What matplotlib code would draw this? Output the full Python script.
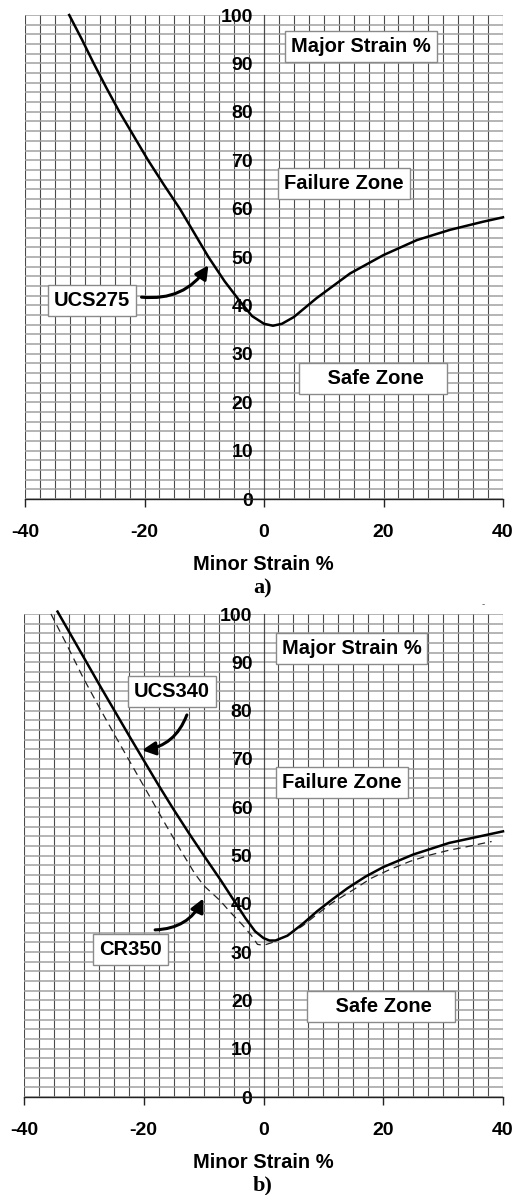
import numpy as np
import matplotlib
matplotlib.use("Agg")
import matplotlib.pyplot as plt

# ---------------- data ----------------
# Panel a) UCS275 forming limit curve (minor strain %, major strain %)
ucs275_x = [-32.6, -30.5, -28.5, -26.4, -24.2, -21.8, -19.4, -16.8, -14.1, -11.7, -9.3,
            -6.6, -4.0, -2.0, 0.0, 1.5, 3.0, 5.0, 8.8, 14.4, 20.0, 25.6, 31.1, 36.7, 40.0]
ucs275_y = [100.0, 95.0, 90.0, 85.0, 80.0, 75.0, 70.0, 65.0, 60.0, 55.0, 50.0,
            45.0, 40.8, 37.8, 36.2, 35.8, 36.2, 37.6, 41.5, 46.6, 50.4, 53.5, 55.6, 57.3, 58.2]

# Panel b) UCS340 (solid) and CR350 (dashed)
ucs340_x = [-34.4, -32.0, -29.6, -27.2, -24.8, -22.4, -20.0, -17.6, -15.1, -12.5, -9.8,
            -7.1, -5.0, -3.0, -1.4, 0.0, 1.0, 2.0, 4.0, 6.5, 9.0, 11.6, 14.0, 17.0,
            20.0, 25.0, 31.0, 40.0]
ucs340_y = [100.5, 95.3, 90.1, 84.9, 79.8, 74.7, 69.7, 64.7, 59.7, 54.7, 49.7,
            44.8, 40.8, 37.0, 34.3, 32.9, 32.4, 32.4, 33.4, 35.8, 38.5, 41.0, 43.2, 45.6,
            47.6, 50.2, 52.6, 55.0]

cr350_x = [-35.5, -33.0, -30.2, -27.4, -24.6, -21.8, -19.0, -16.3, -13.6, -11.5, -10.0,
           -7.2, -5.5, -3.5, -2.0, -1.0, 0.0, 1.5, 3.9, 6.5, 9.0, 11.6, 15.0, 18.0,
           21.1, 24.5, 27.8, 31.0, 33.9, 38.1]
cr350_y = [100.0, 94.0, 87.0, 80.6, 74.4, 68.3, 62.2, 56.3, 50.6, 46.3, 43.8,
           40.6, 38.2, 35.6, 33.4, 31.6, 31.4, 32.0, 33.4, 35.4, 37.9, 40.3, 42.9, 45.3,
           47.1, 48.8, 50.1, 51.1, 51.8, 52.9]

x_ticks = [-40, -20, 0, 20, 40]
y_ticks = [0, 10, 20, 30, 40, 50, 60, 70, 80, 90, 100]

SANS = "Liberation Sans"
SERIF = "Liberation Serif"

fig = plt.figure(figsize=(5.32, 11.95), dpi=100)

box_kw = dict(boxstyle="square,pad=0.3", fc="white", ec="#8a8a8a", lw=1.0)


def setup_axes(ax):
    ax.set_xlim(-40, 40)
    ax.set_ylim(0, 100)
    ax.set_xticks(x_ticks)
    ax.set_xticklabels([str(v) for v in x_ticks])
    ax.set_xticks(np.arange(-40, 40.1, 2.5), minor=True)
    ax.set_yticks(y_ticks)
    ax.set_yticklabels([str(v) for v in y_ticks])
    ax.set_yticks(np.arange(0, 100.1, 2), minor=True)
    ax.grid(True, which="both", axis="x", color="#4a4a4a", lw=0.8)
    ax.grid(True, which="both", axis="y", color="#a0a0a0", lw=1.1)
    ax.set_axisbelow(True)
    for s in ("top", "right"):
        ax.spines[s].set_visible(False)
    ax.spines["left"].set_position(("data", 0))
    ax.spines["left"].set_color("#4a4a4a")
    ax.spines["left"].set_linewidth(0.8)
    ax.spines["bottom"].set_color("#222222")
    ax.spines["bottom"].set_linewidth(1.0)
    ax.tick_params(axis="y", which="both", length=0, pad=8)
    ax.tick_params(axis="y", which="major", labelsize=14)
    ax.tick_params(axis="x", which="major", direction="out", length=6, width=1,
                   color="#222222", pad=12, labelsize=14)
    ax.tick_params(axis="x", which="minor", length=0)
    for lab in ax.get_xticklabels() + ax.get_yticklabels():
        lab.set_fontfamily(SANS)
        lab.set_fontweight("bold")
    ax.set_facecolor("white")


def label(ax, x, y, s):
    ax.text(x, y, s, ha="center", va="center", fontsize=14.5, fontweight="bold",
            family=SANS, bbox=box_kw, zorder=5)


def arrow(ax, start, tip, rad):
    ax.annotate("", xy=tip, xytext=start,
                arrowprops=dict(arrowstyle="-|>", connectionstyle=f"arc3,rad={rad}",
                                lw=2.2, color="black", mutation_scale=20,
                                shrinkA=0, shrinkB=0), zorder=6)


# ---------------- panel a ----------------
ax1 = fig.add_axes([25 / 532, 1 - 499 / 1195, 478 / 532, 484 / 1195])
setup_axes(ax1)
ax1.plot(ucs275_x, ucs275_y, color="black", lw=1.8, solid_joinstyle="round",
         clip_on=False, zorder=4)
label(ax1, 16.2, 93.5, "Major Strain %")
label(ax1, 13.4, 65.2, "Failure Zone")
label(ax1, 18.2, 24.9, "    Safe Zone   ")
label(ax1, -28.8, 41.1, "UCS275")
arrow(ax1, (-20.5, 41.7), (-9.3, 48.3), 0.3)

fig.text(263 / 532, 1 - 569.5 / 1195, "Minor Strain %", ha="center", va="baseline",
         fontsize=14.5, fontweight="bold", family=SANS)
fig.text(263 / 532, 1 - 593 / 1195, "a)", ha="center", va="baseline",
         fontsize=16, fontweight="bold", family=SERIF)

# small stray mark above panel b (as in the source figure)
fig.text(482.7 / 532, 1 - 604 / 1195, "-", ha="center", va="center",
         fontsize=7, color="#555555", family=SANS)

# ---------------- panel b ----------------
ax2 = fig.add_axes([24 / 532, 1 - 1097 / 1195, 479 / 532, 483 / 1195])
setup_axes(ax2)
ax2.plot(cr350_x, cr350_y, color="#222222", lw=0.9, linestyle=(0, (6, 4)),
         clip_on=False, zorder=4)
ax2.plot(ucs340_x, ucs340_y, color="black", lw=1.8, solid_joinstyle="round",
         clip_on=False, zorder=4)
label(ax2, 14.7, 92.9, "Major Strain %")
label(ax2, 13.1, 65.1, "Failure Zone")
label(ax2, 19.6, 18.7, "    Safe Zone   ")
label(ax2, -15.3, 84.0, "UCS340")
label(ax2, -22.2, 30.5, "CR350")
arrow(ax2, (-12.8, 79.1), (-20.3, 71.8), -0.3)
arrow(ax2, (-18.1, 34.6), (-10.05, 41.1), 0.3)

fig.text(263 / 532, 1 - 1168.3 / 1195, "Minor Strain %", ha="center", va="baseline",
         fontsize=14.5, fontweight="bold", family=SANS)
fig.text(263 / 532, 1 - 1190 / 1195, "b)", ha="center", va="baseline",
         fontsize=16, fontweight="bold", family=SERIF)

fig.savefig("out.png", dpi=100, facecolor="white")
